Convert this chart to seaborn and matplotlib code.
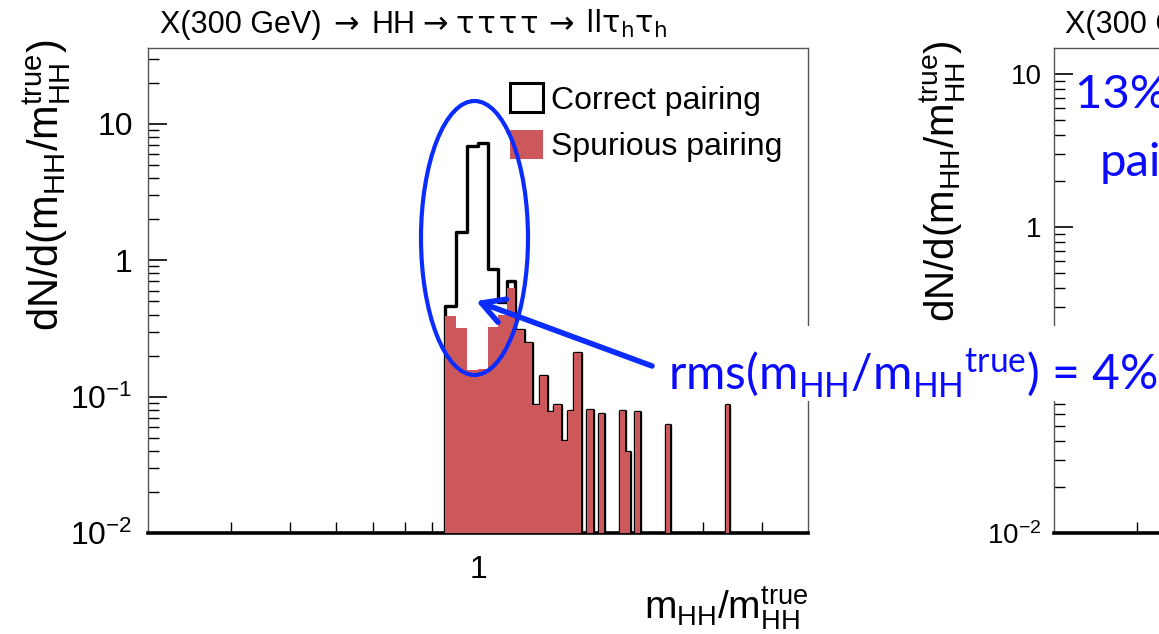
import numpy as np
import pandas as pd
import matplotlib
matplotlib.use("Agg")
import matplotlib.pyplot as plt
import seaborn as sns
from matplotlib.patches import Patch, Ellipse, Rectangle
from matplotlib.ticker import FixedLocator, FixedFormatter, LogLocator, NullFormatter

# ---- data: m_HH / m_HH^true, bins of width 0.05 (left edge of each filled bin) ----
bin_left = [0.85, 0.90, 0.95, 1.00, 1.05, 1.10, 1.15, 1.20, 1.25, 1.30, 1.35, 1.40,
            1.45, 1.50, 1.55, 1.60, 1.70, 1.80, 2.00, 2.05, 2.15, 2.50, 3.35]
correct = [0.46, 1.60, 6.90, 7.22, 0.86, 0.49, 0.71, 0.310, 0.247, 0.087, 0.141, 0.077,
           0.087, 0.047, 0.078, 0.209, 0.080, 0.075, 0.078, 0.039, 0.077, 0.062, 0.087]
spurious = [0.39, 0.32, 0.158, 0.159, 0.323, 0.40, 0.626, 0.310, 0.247, 0.087, 0.141, 0.077,
            0.087, 0.047, 0.078, 0.209, 0.080, 0.075, 0.078, 0.039, 0.077, 0.062, 0.087]
bin_width = 0.05
x_range = (0.2, 5.0)
y_ticks = [0.01, 0.1, 1, 10]
y_ticklabels = ["$10^{-2}$", "$10^{-1}$", "1", "10"]
x_minor = [0.3, 0.4, 0.5, 0.6, 0.7, 0.8, 0.9, 2, 3, 4]

# process titles, split into runs: (text, offset from title start in px, symbol font?)
TAUS = "τ\u200aτ\u200aτ\u200aτ"
title_left = [("X(300 GeV)", 0, False), ("→", 173, True), ("HH", 212, False),
              ("→", 262, True), (TAUS, 296, True), ("→", 388, True),
              ("llτ$_h$τ$_h$", 425, True)]
title_right = [("X(300 GeV)", 0, False), ("→", 173, True), ("HH", 212, False),
               ("→", 262, True), (TAUS, 296, True), ("→", 388, True),
               ("lτ$_h$τ$_h$τ$_h$", 425, True)]
ylabel = "dN/d(m$_{HH}$/m$_{HH}^{true}$)"
xlabel = "m$_{HH}$/m$_{HH}^{true}$"
legend_labels = ["Correct pairing", "Spurious pairing"]
rms_text = "rms(m$_{HH}$/m$_{HH}$$^{true}$) = 4%"

RED = "#cd585b"
BLUE_LINE = "#0a2cff"
BLUE_TEXT = "#0a0aff"
NOTE_FONT = ["Lato", "DejaVu Sans"]

W, H = 1159, 634

sns.set_theme(style="white")
plt.rcParams["font.family"] = ["Liberation Sans", "DejaVu Sans"]
plt.rcParams["mathtext.fontset"] = "custom"
plt.rcParams["mathtext.rm"] = "Liberation Sans"
plt.rcParams["mathtext.it"] = "Liberation Sans"
plt.rcParams["mathtext.default"] = "regular"
for key in ["text.color", "axes.labelcolor", "xtick.color", "ytick.color"]:
    plt.rcParams[key] = "black"

edges = [round(e, 2) for e in np.arange(x_range[0], x_range[1] + bin_width / 2, bin_width)]
df = pd.DataFrame({
    "centre": np.array(bin_left) + bin_width / 2,
    "correct": correct,
    "spurious": spurious,
})

fig = plt.figure(figsize=(W / 100, H / 100), dpi=100)
fig.patch.set_facecolor("white")


def frac_box(left, top, right, bottom):
    return [left / W, 1 - bottom / H, (right - left) / W, (bottom - top) / H]


def style_panel(ax, ytop, labelsize, ypad):
    ax.set_xscale("log")
    ax.set_yscale("log")
    ax.set_xlim(*x_range)
    ax.set_ylim(0.01, ytop)
    ax.set_facecolor("white")
    for side in ["left", "top", "right"]:
        ax.spines[side].set_color("#555555")
        ax.spines[side].set_linewidth(1.0)
    ax.spines["bottom"].set_color("black")
    ax.spines["bottom"].set_linewidth(2.6)
    ax.xaxis.set_major_locator(FixedLocator([1]))
    ax.xaxis.set_major_formatter(FixedFormatter(["1"]))
    ax.xaxis.set_minor_locator(FixedLocator(x_minor))
    ax.xaxis.set_minor_formatter(NullFormatter())
    ax.yaxis.set_major_locator(FixedLocator(y_ticks))
    ax.yaxis.set_major_formatter(FixedFormatter(y_ticklabels))
    ax.yaxis.set_minor_locator(LogLocator(base=10, subs=np.arange(2, 10)))
    ax.yaxis.set_minor_formatter(NullFormatter())
    ax.tick_params(which="both", direction="in", top=False, right=False,
                   left=True, bottom=True, color="black", labelcolor="black")
    ax.tick_params(which="major", length=14, width=1.2, labelsize=labelsize)
    ax.tick_params(axis="y", which="major", pad=ypad)
    ax.tick_params(axis="x", which="major", pad=16)
    ax.tick_params(which="minor", length=8, width=1.0)
    ax.set_xlabel("")
    ax.set_ylabel("")


def draw_title(parts, x0, baseline):
    for text, dx, symbol in parts:
        fam = ["DejaVu Sans"] if symbol else ["Liberation Sans", "DejaVu Sans"]
        fig.text((x0 + dx) / W, 1 - baseline / H, text, fontsize=22,
                 family=fam, va="baseline", ha="left")


# ---- left panel ----
ax = fig.add_axes(frac_box(148, 48, 808, 533))
sns.histplot(data=df, x="centre", weights="correct", bins=edges, element="step",
             fill=False, color="black", linewidth=2.4, ax=ax, zorder=2)
sns.histplot(data=df, x="centre", weights="spurious", bins=edges, element="bars",
             fill=True, color=RED, alpha=1.0, linewidth=0, ax=ax, zorder=3)
style_panel(ax, 36, 23, 11)

ax.legend(handles=[Patch(facecolor="white", edgecolor="black", linewidth=2.2),
                   Patch(facecolor=RED, edgecolor="none")],
          labels=legend_labels, loc="upper left",
          bbox_to_anchor=(510 / W, 1 - 83 / H), bbox_transform=fig.transFigure,
          frameon=False, fontsize=23, handlelength=1.03, handleheight=1.03,
          handletextpad=0.25, labelspacing=0.45, borderpad=0, borderaxespad=0)

draw_title(title_left, 160, 33)
fig.text(47 / W, 1 - 40 / H, ylabel, fontsize=30, rotation=90, va="top", ha="center")
fig.text(808 / W, 1 - 608 / H, xlabel, fontsize=28, va="center", ha="right")

# ---- right panel (continues past the slide edge) ----
ax2 = fig.add_axes(frac_box(1054, 48, 1714, 533))
style_panel(ax2, 14.8, 20, 9)
draw_title(title_right, 1065, 33)
fig.text(943 / W, 1 - 322 / H, ylabel, fontsize=29, rotation=90, va="bottom", ha="center")

# ---- annotation layer in slide pixel coordinates ----
ov = fig.add_axes([0, 0, 1, 1], zorder=10)
ov.set_xlim(0, W)
ov.set_ylim(H, 0)
ov.axis("off")
ov.patch.set_alpha(0)

ov.add_patch(Ellipse((474.5, 238), 107, 274, fill=False, edgecolor=BLUE_LINE, linewidth=3))
ov.annotate("", xy=(476, 301), xytext=(652, 366),
            arrowprops=dict(arrowstyle="->,head_length=1.0,head_width=0.55",
                            mutation_scale=16, lw=4, color=BLUE_LINE,
                            shrinkA=0, shrinkB=0))
ov.add_patch(Rectangle((662, 326), 500, 75, facecolor="white", edgecolor="none"))
ov.text(668, 390, rms_text, fontsize=34.5, family=NOTE_FONT,
        color=BLUE_TEXT, va="baseline", ha="left")
ov.text(1075, 108, "13% wrong", fontsize=34, family=NOTE_FONT,
        color=BLUE_TEXT, va="baseline", ha="left")
ov.text(1100, 176, "pairing", fontsize=34, family=NOTE_FONT,
        color=BLUE_TEXT, va="baseline", ha="left")

fig.savefig("out.png", dpi=100, facecolor="white")
